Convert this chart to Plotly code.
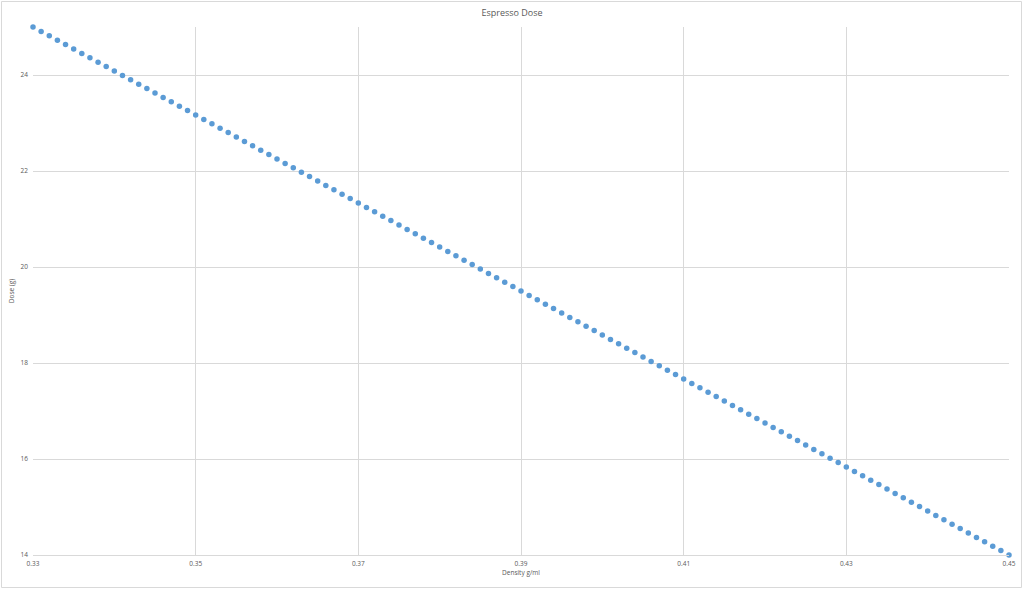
import plotly.graph_objects as go

density = [0.330, 0.331, 0.332, 0.333, 0.334, 0.335, 0.336, 0.337, 0.338, 0.339,
           0.340, 0.341, 0.342, 0.343, 0.344, 0.345, 0.346, 0.347, 0.348, 0.349,
           0.350, 0.351, 0.352, 0.353, 0.354, 0.355, 0.356, 0.357, 0.358, 0.359,
           0.360, 0.361, 0.362, 0.363, 0.364, 0.365, 0.366, 0.367, 0.368, 0.369,
           0.370, 0.371, 0.372, 0.373, 0.374, 0.375, 0.376, 0.377, 0.378, 0.379,
           0.380, 0.381, 0.382, 0.383, 0.384, 0.385, 0.386, 0.387, 0.388, 0.389,
           0.390, 0.391, 0.392, 0.393, 0.394, 0.395, 0.396, 0.397, 0.398, 0.399,
           0.400, 0.401, 0.402, 0.403, 0.404, 0.405, 0.406, 0.407, 0.408, 0.409,
           0.410, 0.411, 0.412, 0.413, 0.414, 0.415, 0.416, 0.417, 0.418, 0.419,
           0.420, 0.421, 0.422, 0.423, 0.424, 0.425, 0.426, 0.427, 0.428, 0.429,
           0.430, 0.431, 0.432, 0.433, 0.434, 0.435, 0.436, 0.437, 0.438, 0.439,
           0.440, 0.441, 0.442, 0.443, 0.444, 0.445, 0.446, 0.447, 0.448, 0.449,
           0.450]

dose = [25.000, 24.908, 24.817, 24.725, 24.633, 24.542, 24.450, 24.358, 24.267, 24.175,
        24.083, 23.992, 23.900, 23.808, 23.717, 23.625, 23.533, 23.442, 23.350, 23.258,
        23.167, 23.075, 22.983, 22.892, 22.800, 22.708, 22.617, 22.525, 22.433, 22.342,
        22.250, 22.158, 22.067, 21.975, 21.883, 21.792, 21.700, 21.608, 21.517, 21.425,
        21.333, 21.242, 21.150, 21.058, 20.967, 20.875, 20.783, 20.692, 20.600, 20.508,
        20.417, 20.325, 20.233, 20.142, 20.050, 19.958, 19.867, 19.775, 19.683, 19.592,
        19.500, 19.408, 19.317, 19.225, 19.133, 19.042, 18.950, 18.858, 18.767, 18.675,
        18.583, 18.492, 18.400, 18.308, 18.217, 18.125, 18.033, 17.942, 17.850, 17.758,
        17.667, 17.575, 17.483, 17.392, 17.300, 17.208, 17.117, 17.025, 16.933, 16.842,
        16.750, 16.658, 16.567, 16.475, 16.383, 16.292, 16.200, 16.108, 16.017, 15.925,
        15.833, 15.742, 15.650, 15.558, 15.467, 15.375, 15.283, 15.192, 15.100, 15.008,
        14.917, 14.825, 14.733, 14.642, 14.550, 14.458, 14.367, 14.275, 14.183, 14.092,
        14.000]

x_ticks = [0.33, 0.35, 0.37, 0.39, 0.41, 0.43, 0.45]
x_tick_labels = ["0.33", "0.35", "0.37", "0.39", "0.41", "0.43", "0.45"]
y_ticks = [14, 16, 18, 20, 22, 24]

title_text = "Espresso Dose"
x_title = "Density g/ml"
y_title = "Dose (g)"

W, H = 1024, 589
L, R, T, B = 33, 15, 27, 34
pw, ph = W - L - R, H - T - B

font_family = "Open Sans, Liberation Sans, sans-serif"
text_color = "#595959"
grid_color = "#D9D9D9"

fig = go.Figure(go.Scatter(
    x=density, y=dose, mode="markers",
    marker=dict(color="#5B9BD5", size=5.5, line=dict(width=0)),
    cliponaxis=False,
    hoverinfo="x+y", showlegend=False,
))

fig.update_layout(
    width=W, height=H,
    margin=dict(l=L, r=R, t=T, b=B, autoexpand=False),
    paper_bgcolor="white", plot_bgcolor="white",
    font=dict(family=font_family, color=text_color, size=7),
    title=dict(text=title_text, x=0.5, xanchor="center", y=1 - 13 / H, yanchor="middle",
               font=dict(family=font_family, size=9, color=text_color)),
    xaxis=dict(range=[0.33, 0.45], tickvals=x_ticks, ticktext=x_tick_labels,
               showgrid=True, gridcolor=grid_color, gridwidth=1,
               showline=True, linecolor=grid_color, linewidth=1,
               zeroline=False, ticks="", ticklen=0, ticklabelstandoff=2,
               tickfont=dict(size=6.5, color=text_color), automargin=False,
               title=dict(text=x_title, standoff=2, font=dict(size=6.5, color=text_color))),
    yaxis=dict(range=[14, 25], tickvals=y_ticks,
               showgrid=True, gridcolor=grid_color, gridwidth=1,
               showline=False, zeroline=False, ticks="", ticklen=0, ticklabelstandoff=4,
               tickfont=dict(size=6.5, color=text_color), automargin=False,
               title=dict(text=y_title, standoff=5, font=dict(size=6.5, color=text_color))),
)

# outer chart border
fig.add_shape(type="rect", xref="paper", yref="paper",
              x0=(1.5 - L) / pw, x1=(1021.5 - L) / pw,
              y0=(T + ph - 587.5) / ph, y1=(T + ph - 1.5) / ph,
              line=dict(color=grid_color, width=1), fillcolor="rgba(0,0,0,0)", layer="below")

fig.write_html("out.html", config={"displayModeBar": False},
               post_script="document.body.style.margin='0';document.body.style.overflow='hidden';")
